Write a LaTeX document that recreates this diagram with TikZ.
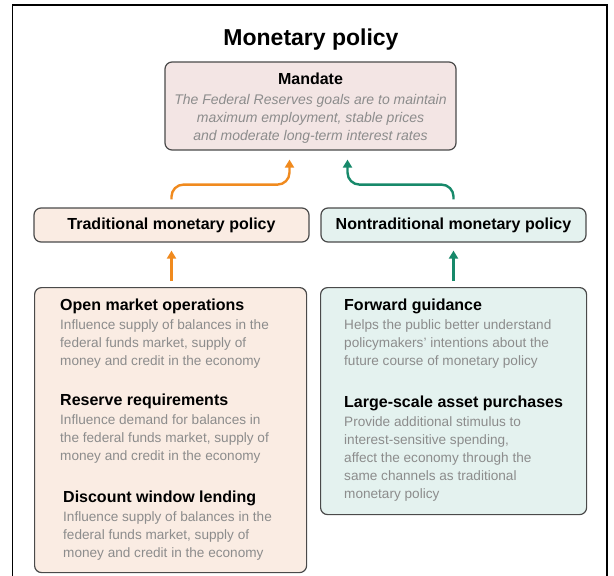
\documentclass[tikz,border=0pt]{standalone}
\usepackage{fontspec}
\setmainfont{Liberation Sans}
\usetikzlibrary{arrows.meta,positioning}

\definecolor{mandatefill}{HTML}{F3E5E4}
\definecolor{tradfill}{HTML}{FAECE3}
\definecolor{nontradfill}{HTML}{E4F2EF}
\definecolor{panelline}{HTML}{4A4A4A}
\definecolor{bodygray}{HTML}{8C8C8C}
\definecolor{tradorange}{HTML}{F08A1E}
\definecolor{nontradgreen}{HTML}{17896A}

\tikzset{
  panel/.style={draw=panelline, line width=1.2pt, rounded corners=7pt, inner sep=0pt},
  titletext/.style={font=\bfseries\fontsize{23}{26}\selectfont, inner sep=0pt, anchor=base},
  headtext/.style={font=\bfseries\fontsize{16}{18}\selectfont, inner sep=0pt},
  bodytext/.style={font=\fontsize{13.6}{18}\selectfont, text=bodygray, align=left, inner sep=0pt, anchor=base west},
  goaltext/.style={font=\itshape\fontsize{14}{18}\selectfont, text=bodygray, align=center, inner sep=0pt, anchor=base},
  policyarrow/.style={line width=2.4pt, -{Triangle[width=9pt,length=8pt]}},
}

\begin{document}
\begin{tikzpicture}[x=1pt,y=-1pt]
  \useasboundingbox (0,0) rectangle (614,576);
  \draw[line width=1.6pt] (12.5,576) |- (607,5) -- (607,576);

  \node[titletext] (title) at (311,45) {Monetary policy};

  \node[panel, fill=mandatefill, minimum width=291pt, minimum height=88pt] (mandate) at (310.5,106) {};
  \node[headtext, anchor=base] (mandatehead) at (310.5,84) {Mandate};
  \node[goaltext] (mandategoal) at (310.5,140) {The Federal Reserves goals are to maintain\\maximum employment, stable prices\\and moderate long-term interest rates};

  \node[panel, fill=tradfill, minimum width=275pt, minimum height=34pt] (trad) at (171.5,225) {};
  \node[headtext] at (trad) {Traditional monetary policy};
  \node[panel, fill=nontradfill, minimum width=265pt, minimum height=34pt] (nontrad) at (453.5,225) {};
  \node[headtext] at (nontrad) {Nontraditional monetary policy};

  \node[panel, fill=tradfill, minimum width=272pt, minimum height=285pt, anchor=north west] (tradtools) at (34,287) {};
  \node[headtext, anchor=base west] (omo) at (60,310) {Open market operations};
  \node[bodytext] (omotext) at (60,365) {Influence supply of balances in the\\federal funds market, supply of\\money and credit in the economy};
  \node[headtext, anchor=base west] (reserve) at (60,405) {Reserve requirements};
  \node[bodytext] (reservetext) at (60,460) {Influence demand for balances in\\the federal funds market, supply of\\money and credit in the economy};
  \node[headtext, anchor=base west] (discount) at (63,502) {Discount window lending};
  \node[bodytext] (discounttext) at (63,557) {Influence supply of balances in the\\federal funds market, supply of\\money and credit in the economy};

  \node[panel, fill=nontradfill, minimum width=266pt, minimum height=227pt, anchor=north west] (nontradtools) at (320,287) {};
  \node[headtext, anchor=base west] (guidance) at (344,310) {Forward guidance};
  \node[bodytext] (guidancetext) at (344,365) {Helps the public better understand\\policymakers' intentions about the\\future course of monetary policy};
  \node[headtext, anchor=base west] (lsap) at (344,407) {Large-scale asset purchases};
  \node[bodytext] (lsaptext) at (344,498) {Provide additional stimulus to\\interest-sensitive spending,\\affect the economy through the\\same channels as traditional\\monetary policy};

  \draw[policyarrow, draw=tradorange, rounded corners=12pt]
    ([yshift=8pt]trad.north) |- ([xshift=-21pt,yshift=-34pt]mandate.south) -- ([xshift=-21pt,yshift=-9pt]mandate.south);
  \draw[policyarrow, draw=nontradgreen, rounded corners=12pt]
    ([yshift=8pt]nontrad.north) |- ([xshift=37pt,yshift=-34pt]mandate.south) -- ([xshift=37pt,yshift=-9pt]mandate.south);
  \draw[policyarrow, draw=tradorange] ([yshift=6pt]tradtools.north -| trad.north) -- ([yshift=-8pt]trad.south);
  \draw[policyarrow, draw=nontradgreen] ([yshift=6pt]nontradtools.north -| nontrad.north) -- ([yshift=-8pt]nontrad.south);
\end{tikzpicture}
\end{document}
